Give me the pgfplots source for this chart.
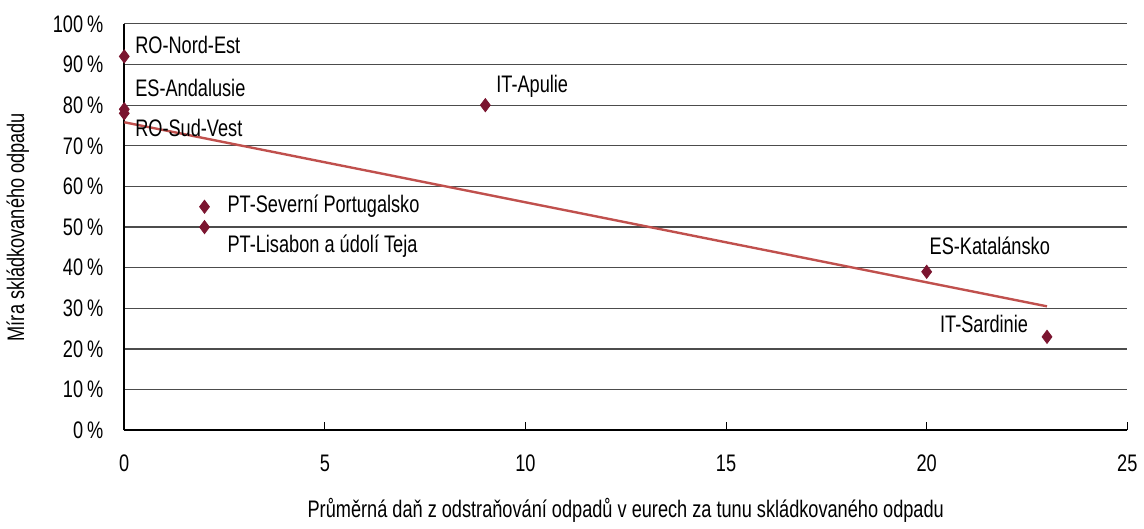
\documentclass[border=0pt]{standalone}
\usepackage{pgfplots}
\pgfplotsset{compat=1.18}
\usepackage{fontspec}
\setmainfont{Liberation Sans}[FakeStretch=0.76]
\definecolor{pt}{HTML}{7B1530}
\definecolor{tr}{HTML}{C0504D}
\begin{document}
\begin{tikzpicture}
\begin{axis}[
  scale only axis, width=503.5pt, height=204pt,
  xmin=0, xmax=25, ymin=0, ymax=100,
  axis x line=bottom, axis y line=left,
  axis line style={-, line width=0.8pt, black},
  xtick={0,5,...,25}, ytick={0,10,...,100},
  ymajorgrids, major grid style={line width=0.6pt, black!70},
  xtick align=inside, major tick length=4pt,
  y tick style={draw=none},
  x tick style={black, line width=0.5pt},
  /pgf/number format/assume math mode=true,
  font=\fontsize{12}{14}\selectfont,
  yticklabel={\pgfmathprintnumber{\tick}\,\%},
  xticklabel style={yshift=-9pt},
  yticklabel style={xshift=-5pt},
  xlabel={Průměrná daň z odstraňování odpadů v eurech za tunu skládkovaného odpadu},
  ylabel={Míra skládkovaného odpadu},
  xlabel style={yshift=-6pt},
  ylabel style={yshift=5pt},
  clip=false,
]
\addplot[only marks, mark=diamond*, mark size=3.3pt, color=pt] coordinates {
 (0,92) (0,79) (0,78) (9,80) (2,55) (2,50) (20,39) (23,23)
};
\addplot[tr, line width=1.2pt, no marks] coordinates {(0,75.8) (23,30.5)};
\node[anchor=west] at (axis cs:0.1,94.9) {RO-Nord-Est};
\node[anchor=west] at (axis cs:0.1,84.3) {ES-Andalusie};
\node[anchor=west] at (axis cs:0.1,74.3) {RO-Sud-Vest};
\node[anchor=west] at (axis cs:9.1,84.6) {IT-Apulie};
\node[anchor=west] at (axis cs:2.4,55.1) {PT-Severní Portugalsko};
\node[anchor=west] at (axis cs:2.4,45.3) {PT-Lisabon a údolí Teja};
\node[anchor=west] at (axis cs:19.9,45.3) {ES-Katalánsko};
\node[anchor=east] at (axis cs:22.7,26.2) {IT-Sardinie};
\path (rel axis cs:0,1) ++(0,12pt);
\end{axis}
\end{tikzpicture}
\end{document}
